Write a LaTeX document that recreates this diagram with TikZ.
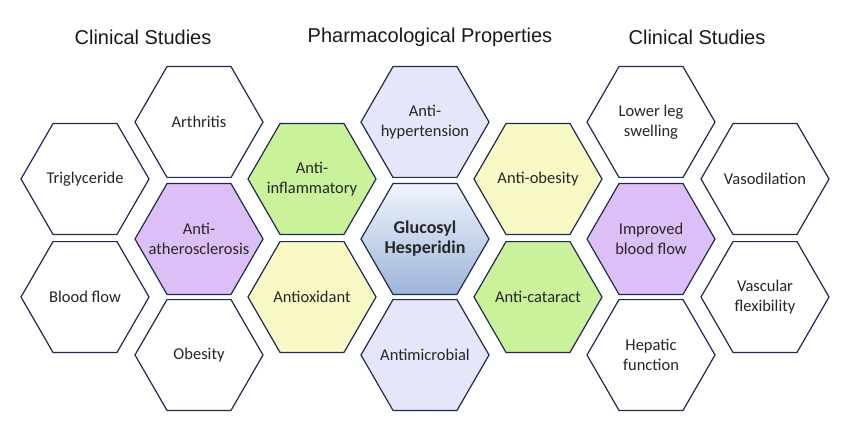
\documentclass[tikz,border=0pt]{standalone}
\usepackage{fontspec}
\setmainfont{Carlito}
\setsansfont{Liberation Sans}
\definecolor{edge}{HTML}{1F2A4F}
\definecolor{purp}{HTML}{DDBFF7}
\definecolor{grn}{HTML}{C9F29A}
\definecolor{yel}{HTML}{F9F9C6}
\definecolor{lav}{HTML}{E6E6FA}
\definecolor{ctop}{HTML}{F0F5FC}
\definecolor{cbot}{HTML}{9EB4DA}
\tikzset{hexline/.style={draw=edge, line width=1.2pt, line join=miter},
  hexlabel/.style={align=center, font=\fontsize{16.5}{20}\selectfont, text=black!85, inner sep=0pt},
  ttl/.style={font=\sffamily\fontsize{20}{24}\selectfont, text=black!90}}
\newcommand{\hexa}[4]{%
  \path[hexline,#3] (#2) ++(-64,0) -- ++(32,-55.4) -- ++(64,0) -- ++(32,55.4) -- ++(-32,55.4) -- ++(-64,0) -- cycle;
  \node[hexlabel] (#1) at (#2) {#4};}
\begin{document}
\begin{tikzpicture}[x=1pt,y=-1pt]
\useasboundingbox (0,0) rectangle (850,438);
\node[ttl] (t1) at (143,37) {Clinical Studies};
\node[ttl] (t2) at (430,37) {Pharmacological Properties};
\node[ttl] (t3) at (697,37) {Clinical Studies};
\hexa{a1}{85,179}{fill=white}{Triglyceride}
\hexa{a2}{85,297}{fill=white}{Blood flow}
\hexa{b1}{199,122}{fill=white}{Arthritis}
\hexa{b2}{199,239}{fill=purp}{Anti-\\atherosclerosis}
\hexa{b3}{199,355}{fill=white}{Obesity}
\hexa{c1}{312,179}{fill=grn}{Anti-\\inflammatory}
\hexa{c2}{312,297}{fill=yel}{Antioxidant}
\hexa{d1}{425,122}{fill=lav}{Anti-\\hypertension}
\hexa{d2}{425,239}{top color=ctop, bottom color=cbot}{\bfseries\fontsize{18}{21}\selectfont Glucosyl\\\bfseries\fontsize{18}{21}\selectfont Hesperidin}
\hexa{d3}{425,355}{fill=lav}{Antimicrobial}
\hexa{e1}{538,179}{fill=yel}{Anti-obesity}
\hexa{e2}{538,297}{fill=grn}{Anti-cataract}
\hexa{f1}{651,122}{fill=white}{Lower leg\\swelling}
\hexa{f2}{651,239}{fill=purp}{Improved\\blood flow}
\hexa{f3}{651,355}{fill=white}{Hepatic\\function}
\hexa{g1}{765,179}{fill=white}{Vasodilation}
\hexa{g2}{765,297}{fill=white}{Vascular\\flexibility}
\end{tikzpicture}
\end{document}
